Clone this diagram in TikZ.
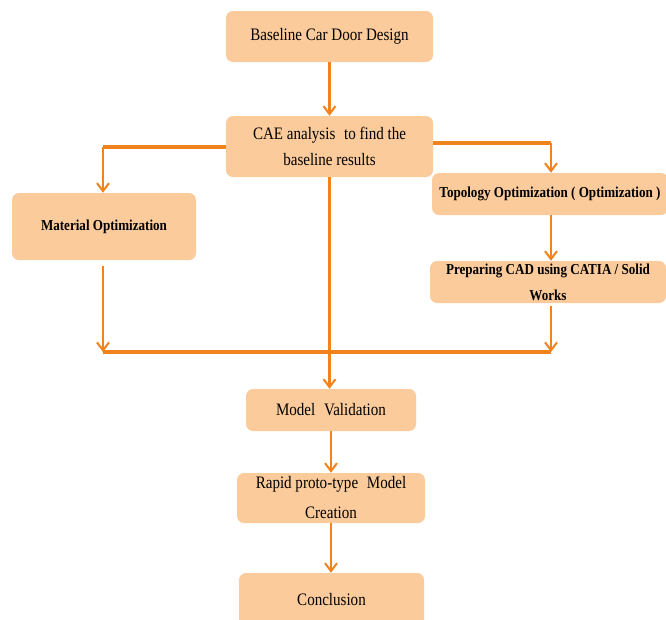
\documentclass[tikz,border=0pt]{standalone}
\usepackage{fontspec}
\setmainfont{Liberation Serif}
\newfontfamily\cond[FakeStretch=0.86]{Liberation Serif}
\usetikzlibrary{arrows.meta}
\definecolor{boxfill}{HTML}{FBCB9B}
\definecolor{lineor}{HTML}{F0831E}
\begin{document}
\begin{tikzpicture}[x=1pt,y=-1pt,
  box/.style={fill=boxfill,rounded corners=7pt,inner sep=2pt,align=center,font=\cond\fontsize{17.5}{26}\selectfont,text=black},
  boxb/.style={box,font=\cond\bfseries\fontsize{15.2}{26}\selectfont},
  conn/.style={draw=lineor,line width=2.2pt},
  arr/.style={conn,-{Straight Barb[length=8pt,width=12pt,line width=2pt]}},
  bar/.style={draw=lineor,line width=3.4pt}]
\useasboundingbox (0,0) rectangle (666,619);
\node[box,minimum width=207pt,minimum height=51pt] (base) at (329.5,36.5) {Baseline Car Door Design};
\node[box,minimum width=207pt,minimum height=61pt] (cae) at (329.5,146.5) {CAE analysis\enspace to find the\\baseline results};
\node[boxb,minimum width=184pt,minimum height=67pt] (mat) at (104,226.5) {Material Optimization};
\node[boxb,minimum width=236pt,minimum height=42pt] (topo) at (550,194) {Topology Optimization ( Optimization )};
\node[boxb,minimum width=236pt,minimum height=42pt] (prep) at (548,282) {Preparing CAD using CATIA / Solid\\Works};
\node[box,minimum width=170pt,minimum height=42pt] (mv) at (331,410) {Model\enspace Validation};
\node[box,minimum width=188pt,minimum height=50pt,font=\cond\fontsize{17.5}{30}\selectfont] (rap) at (331,498) {Rapid proto-type\enspace Model\\Creation};
\node[box,minimum width=185pt,minimum height=54pt] (conc) at (331.5,600) {Conclusion};
\coordinate (jl) at (103,352);
\coordinate (jr) at (551,352);
\coordinate (cl) at (103,147);
\coordinate (cr) at (551,143);
\draw[arr] (base.south) -- (cae.north);
\draw[bar] (cae.west |- cl) -- (cl);
\draw[arr] (cl) -- (cl |- mat.north);
\draw[bar] (cae.east |- cr) -- (cr);
\draw[arr] (cr) -- (cr |- topo.north);
\draw[arr] (cr |- topo.south) -- (cr |- prep.north);
\draw[arr] ([yshift=-6pt]jl |- mat.south) -- (jl);
\draw[arr] ([yshift=-3pt]jr |- prep.south) -- (jr);
\draw[bar] (jl) -- (jr);
\draw[arr] (cae.south) -- (mv.north -| cae.south);
\draw[arr] (mv.south) -- (rap.north);
\draw[arr] (rap.south) -- (conc.north -| rap.south);
\end{tikzpicture}
\end{document}
